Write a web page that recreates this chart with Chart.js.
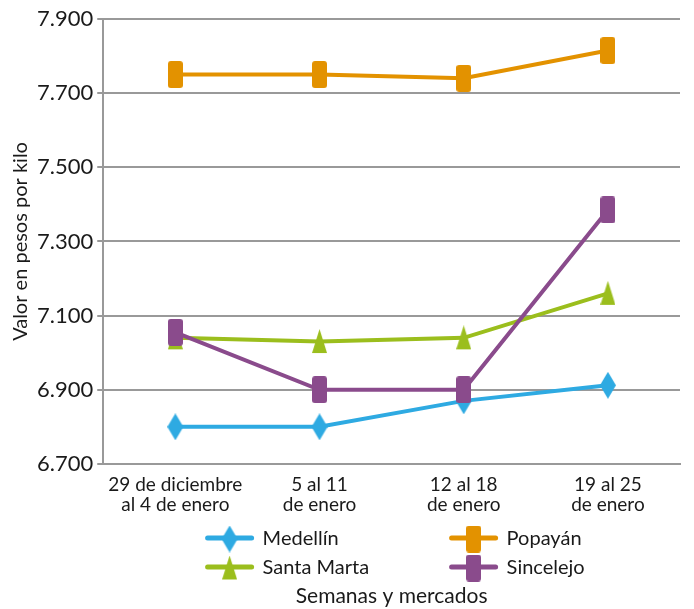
<!DOCTYPE html>
<html>
<head>
<meta charset="utf-8">
<script src="https://cdn.jsdelivr.net/npm/chart.js@4"></script>
<style>
  html, body { margin: 0; padding: 0; background: #fff; }
  #wrap { width: 694px; height: 609px; }
</style>
</head>
<body>
<div id="wrap"><canvas id="myChart" width="694" height="609"></canvas></div>
<script>
// Datos
const semanas = [
    ['29 de diciembre', 'al 4 de enero'],
    ['5 al 11', 'de enero'],
    ['12 al 18', 'de enero'],
    ['19 al 25', 'de enero']
];
const mercados = ['Medellín', 'Popayán', 'Santa Marta', 'Sincelejo'];
const medellin = [6800, 6800, 6870, 6912];
const popayan = [7750, 7750, 7740, 7815];
const santaMarta = [7040, 7030, 7040, 7160];
const sincelejo = [7055, 6900, 6900, 7385];
const yMin = 6700, yMax = 7900, yStep = 200;

const FONT = 'Lato, "Noto Sans", sans-serif';

// markers (tall shapes like the original)
let makeMarker = (shape, color, w, h) => {
    const c = document.createElement('canvas');
    c.width = w; c.height = h;
    const ctx = c.getContext('2d');
    ctx.fillStyle = color;
    ctx.beginPath();
    if (shape === 'diamond') {
        ctx.moveTo(w / 2, 0);
        ctx.lineTo(w, h / 2);
        ctx.lineTo(w / 2, h);
        ctx.lineTo(0, h / 2);
        ctx.closePath();
    } else if (shape === 'triangle') {
        ctx.moveTo(w / 2, 0);
        ctx.lineTo(w, h - 1);
        ctx.lineTo(0, h - 1);
        ctx.closePath();
    } else {
        ctx.roundRect(0, 0, w, h, 3);
    }
    ctx.fill();
    return c;
};

const colors = ['#2eaae2', '#e39200', '#9bbe1d', '#8a4b8c'];
const markers = [
    makeMarker('diamond', colors[0], 16, 27),
    makeMarker('square', colors[1], 15, 27),
    makeMarker('triangle', colors[2], 15, 25),
    makeMarker('square', colors[3], 15, 27)
];
const series = [medellin, popayan, santaMarta, sincelejo];
const drawOrder = [4, 3, 2, 1];

const datasets = series.map((vals, i) => ({
    label: mercados[i],
    data: vals,
    borderColor: colors[i],
    backgroundColor: colors[i],
    borderWidth: 4,
    pointStyle: markers[i],
    pointRadius: 10,
    tension: 0,
    order: drawOrder[i]
}));

// custom legend: 2 columns, line + marker, drawn between ticks and x title
const legendPlugin = {
    id: 'lineLegend',
    afterDraw(chart) {
        const ctx = chart.ctx;
        const area = chart.chartArea;
        const cx = (area.left + area.right) / 2;
        const cols = [cx - 186, cx + 58];
        const rows = [538, 567];
        ctx.save();
        ctx.font = '20px ' + FONT;
        ctx.textBaseline = 'middle';
        ctx.textAlign = 'left';
        chart.data.datasets.forEach((ds, i) => {
            const x = cols[i % 2];
            const y = rows[Math.floor(i / 2)];
            ctx.strokeStyle = ds.borderColor;
            ctx.lineWidth = 5;
            ctx.lineCap = 'round';
            ctx.beginPath();
            ctx.moveTo(x + 2, y);
            ctx.lineTo(x + 46, y);
            ctx.stroke();
            const m = ds.pointStyle;
            ctx.drawImage(m, x + 24 - m.width / 2, y - m.height / 2 + 1);
            ctx.fillStyle = '#1a1a1a';
            ctx.fillText(ds.label, x + 57, y + 1);
        });
        ctx.restore();
    }
};

const context = document.getElementById('myChart').getContext('2d');
const myChart = new Chart(context, {
    type: 'line',
    data: { labels: semanas, datasets: datasets },
    options: {
        responsive: false,
        animation: false,
        layout: { padding: { top: 19, right: 0, left: 9, bottom: 0 } },
        plugins: {
            legend: { display: false },
            tooltip: { enabled: false }
        },
        scales: {
            x: {
                offset: true,
                grid: { display: false, drawTicks: false, offset: true },
                border: { color: '#999', width: 2 },
                ticks: {
                    color: '#1a1a1a',
                    font: { family: FONT, size: 19, lineHeight: 1.05 },
                    padding: 11,
                    maxRotation: 0,
                    autoSkip: false
                },
                title: {
                    display: true,
                    text: 'Semanas y mercados',
                    color: '#1a1a1a',
                    font: { family: FONT, size: 21 },
                    padding: { top: 58, bottom: 0 }
                }
            },
            y: {
                min: yMin,
                max: yMax,
                grid: { color: '#999', lineWidth: 2, tickLength: 6, drawTicks: true },
                border: { color: '#999', width: 2 },
                ticks: {
                    stepSize: yStep,
                    color: '#1a1a1a',
                    font: { family: FONT, size: 22 },
                    padding: 4,
                    callback: v => Math.floor(v / 1000) + '.' + String(v % 1000).padStart(3, '0')
                },
                title: {
                    display: true,
                    text: 'Valor en pesos por kilo',
                    color: '#1a1a1a',
                    font: { family: FONT, size: 20 },
                    padding: { top: 0, bottom: 0 }
                }
            }
        }
    },
    plugins: [legendPlugin]
});
</script>
</body>
</html>
